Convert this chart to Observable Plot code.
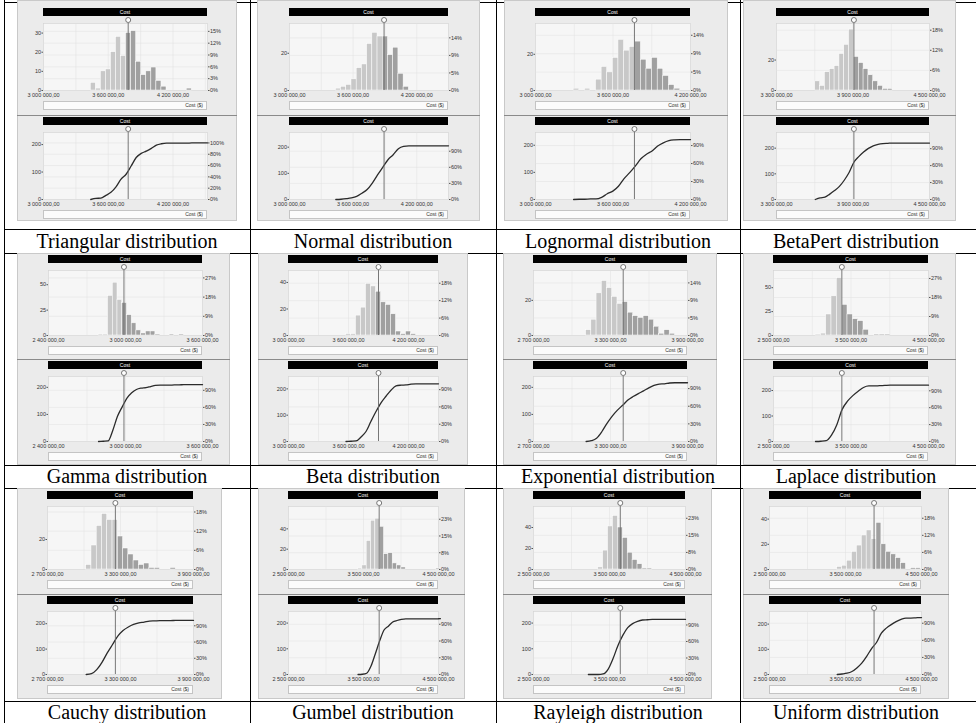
<!DOCTYPE html>
<html><head><meta charset="utf-8">
<script src="https://cdn.jsdelivr.net/npm/d3@7"></script>
<script src="https://cdn.jsdelivr.net/npm/@observablehq/plot@0.6"></script>
<style>
html,body{margin:0;padding:0;background:#fff;}
body{width:976px;height:723px;overflow:hidden;position:relative;font-family:"Liberation Sans",Arial,sans-serif;}
.a{position:absolute;box-sizing:border-box;}
.vl{position:absolute;width:1px;background:#000;}
.hl{position:absolute;height:1px;background:#000;}
.panel{background:#ebebeb;border:1px solid #c9c9c9;}
.tbar{background:#000;color:#fff;font-size:5px;line-height:8px;text-align:center;height:8px;}
.cbox{background:#fbfbfb;border:1px solid #c4c4c4;font-size:5px;line-height:7px;text-align:right;padding-right:3px;color:#333;}
.div{background:#8a8a8a;height:1px;}
.cap{font-family:"Liberation Serif","Times New Roman",serif;font-size:20px;text-align:center;color:#000;white-space:nowrap;}
</style></head>
<body>
<script>
// ---------- data ----------
const distributions = ["Triangular distribution","Normal distribution","Lognormal distribution","BetaPert distribution",
  "Gamma distribution","Beta distribution","Exponential distribution","Laplace distribution",
  "Cauchy distribution","Gumbel distribution","Rayleigh distribution","Uniform distribution"];

const triangularCounts  = [4,1,10,11,20,28,18,30,31,15,8,10,12,5,2,0,0,0,0,1];
const normalCounts      = [1,2,3,6,12,14,25,31,29,29,19,23,9,2];
const lognormalCounts   = [1,0,1,0,6,13,10,18,28,22,24,27,17,12,18,12,8,3,1];
const betaPertCounts    = [6,3,12,14,16,24,30,40,22,18,14,10,6,3,1,1];
const gammaCounts       = [1,1,39,52,35,32,20,12,5,2,4,4,1,0,0,1,0,1];
const betaCounts        = [1,1,15,21,39,37,33,25,23,16,3,1,3,1];
const exponentialCounts = [3,9,24,31,27,22,18,19,13,11,10,11,9,5,1,3,1];
const laplaceCounts     = [1,2,22,41,60,32,22,17,15,6,0,1,1,1];
const cauchyCounts      = [3,16,29,37,33,33,22,14,10,6,3,4,1,1,0,0,1];
const gumbelCounts      = [1,4,28,48,50,42,15,16,6,4,2,0,0,0,0,0,0,0,1];
const rayleighCounts    = [0,0,2,18,41,51,40,30,16,9,5,1,1];
const uniformCounts     = [2,3,7,14,19,27,31,24,37,20,14,12,9,5,0,1,1];

const allCounts = [triangularCounts,normalCounts,lognormalCounts,betaPertCounts,gammaCounts,betaCounts,
  exponentialCounts,laplaceCounts,cauchyCounts,gumbelCounts,rayleighCounts,uniformCounts];

const binStarts  = [3438000,3437000,3295000,3604000,2790000,3575000,3110000,3042000,3018000,3427000,3222000,3391000];
const binWidths  = [46800,49200,43400,37900,36900,50000,40700,68800,43300,57800,64700,64600];
const markerValues = [3785000,3892000,3766000,3907000,2988000,3900000,3399000,3382000,3258000,3709000,3642000,3876000];
const xDomainMin = [3000000,3000000,3000000,3300000,2400000,3000000,2700000,2500000,2700000,2500000,2500000,2500000];
const xDomainMax = [4520000,4500000,4200000,4500000,3600000,4500000,3900000,4500000,3900000,4500000,4500000,4500000];
const xTickValues = [
  [3000000,3600000,4200000],[3000000,3600000,4200000],[3000000,3600000,4200000],[3300000,3900000,4500000],
  [2400000,3000000,3600000],[3000000,3600000,4200000],[2700000,3300000,3900000],[2500000,3500000,4500000],
  [2700000,3300000,3900000],[2500000,3500000,4500000],[2500000,3500000,4500000],[2500000,3500000,4500000]];
const histYMax      = [35,36,37,44,64,49,37,68,42,62,60,50];
const histCountStep = [10,20,20,20,25,20,20,25,20,20,20,20];
const histCountTop  = [30,20,20,20,50,40,20,50,20,40,40,40];   // highest labelled count on the left axis
const histPctStep   = [0.03,0.046,0.046,0.06,0.09,0.06,0.046,0.09,0.06,0.076,0.076,0.06];
const cumYMax       = [244,256,247,261,240,247,240,255,248,245,245,250];
const cumCountStep  = [100,100,100,100,100,100,100,100,100,100,100,100];
const cumCountTop   = [200,200,200,200,200,200,200,200,200,200,200,200];
const cumPctStep    = [0.2,0.3,0.3,0.3,0.3,0.3,0.3,0.3,0.3,0.3,0.3,0.3];

// ---------- layout ----------
const colLines = [4,250,496,740];
const rowLines = [2,229,253,465,488,701];
const captionRows = [[229,253],[465,488],[701,723]];
const rowPanel = [ // panelTop, blockTops, blockHeight, panelBottom
  {top:0,   t:[8,117],  B:108, bottom:221},
  {top:253, t:[255,361],B:106, bottom:465},
  {top:488, t:[491,596],B:104, bottom:699}];
const cellX = [ // panelLeft, panelRight, plotLeft, plotRight
  [17,237,43,207],[257,480,289,448],[504,728,535,690],[743,956,776,929],
  [17,230,48,202],[258,468,288,438],[503,717,533,687],[743,956,773,928],
  [17,222,47,193],[258,465,288,438],[503,712,533,685],[743,949,769,921]];

const loc = d3.formatLocale({decimal:",",thousands:" ",grouping:[3],currency:["",""]});
const fmtX = loc.format(",.2f");

function el(cls, x, y, w, h, html){
  const d = document.createElement("div");
  d.className = cls;
  d.style.left = x+"px"; d.style.top = y+"px";
  if (w!=null) d.style.width = w+"px";
  if (h!=null) d.style.height = h+"px";
  if (html!=null) d.innerHTML = html;
  document.body.appendChild(d);
  return d;
}

// table lines
colLines.forEach(x => el("vl", x, 0, 1, 723));
rowLines.forEach(y => el("hl", 4, y, 972, 1));

function makeChart(i, kind, width, mL, mR, height){
  const counts = allCounts[i];
  const n = d3.sum(counts);
  const start = binStarts[i], w = binWidths[i];
  const bins = counts.map((c,k)=>({x1:start+k*w, x2:start+(k+1)*w, count:c}));
  const marker = markerValues[i];
  const yMax = kind==="hist" ? histYMax[i] : cumYMax[i];
  const cStep = kind==="hist" ? histCountStep[i] : cumCountStep[i];
  const cTop = kind==="hist" ? histCountTop[i] : cumCountTop[i];
  const pStep = kind==="hist" ? histPctStep[i] : cumPctStep[i];
  const countTicks = d3.range(0, cTop + cStep/2, cStep);
  const pctVals = d3.range(0, 1.0001, pStep).filter(p => p*n <= yMax);
  const pctTicks = pctVals.map(p => p*n);
  const ticks = xTickValues[i];
  const half = (ticks[1]-ticks[0])/2;
  const vgrid = d3.range(ticks[0]+half, xDomainMax[i], half);
  const cs = d3.cumsum(counts);
  const cum = [{x:start,y:0}, ...bins.map((b,k)=>({x:b.x2,y:cs[k]})), {x:xDomainMax[i], y:n}];
  const dataMark = kind==="hist"
    ? Plot.rectY(bins.filter(b=>b.count>0), {x1:"x1", x2:"x2", y:"count",
        fill: b => (b.x1+b.x2)/2 < marker ? "#c8c8c8" : "#a0a0a0", stroke:"#fff", strokeWidth:0.5})
    : Plot.line(cum, {x:"x", y:"y", stroke:"#2b2b2b", strokeWidth:1.3, curve:"monotone-x"});
  return Plot.plot({
    width, height, marginLeft:mL, marginRight:mR, marginTop:7, marginBottom:10,
    x:{domain:[xDomainMin[i], xDomainMax[i]], axis:null, label:null},
    y:{domain:[0,yMax], axis:null, label:null},
    style:{background:"transparent", fontFamily:"'Liberation Sans',Arial,sans-serif", fontSize:"5.5px", overflow:"visible", color:"#333"},
    marks:[
      Plot.frame({fill:"#f6f6f6", stroke:"#d2d2d2", strokeWidth:0.6}),
      Plot.ruleY(pctTicks, {stroke:"#e1e1e1", strokeWidth:0.5}),
      Plot.ruleX(vgrid, {stroke:"#e1e1e1", strokeWidth:0.5}),
      dataMark,
      Plot.ruleX([marker], {x:d=>d, y1:0, y2:yMax, stroke:"#6a6a6a", strokeWidth:0.9}),
      Plot.dot([marker], {x:d=>d, y:yMax, dy:-3.5, r:2.5, fill:"#fff", stroke:"#444", strokeWidth:0.7}),
      Plot.axisY(countTicks, {anchor:"left", label:null, tickSize:1.5, tickPadding:1, fontSize:5.5, stroke:"#555"}),
      Plot.axisY(pctTicks, {anchor:"right", label:null, tickSize:1.5, tickPadding:1, fontSize:5.5, stroke:"#555",
        tickFormat: v => Math.round(v/n*100) + "%"}),
      Plot.axisX(ticks, {anchor:"bottom", label:null, tickSize:0, tickPadding:3, fontSize:5.5, tickFormat: fmtX})
    ]
  });
}

distributions.forEach((name, i) => {
  const r = Math.floor(i/4), c = i%4;
  const rp = rowPanel[r];
  const [pL, pR, qL, qR] = cellX[i];
  const pw = pR - pL, qw = qR - qL;
  el("a panel", pL, rp.top, pw, rp.bottom - rp.top);
  ["hist","cum"].forEach((kind, b) => {
    const t = rp.t[b];
    el("a tbar", qL, t, qw, 8, "Cost");
    const svgH = rp.B - 8 - 16;
    const holder = el("a", pL, t+8, pw, svgH);
    holder.appendChild(makeChart(i, kind, pw, qL-pL, pR-qR, svgH));
    el("a cbox", qL, t + rp.B - 16 + 1, qw, 9, "Cost ($)");
    if (b===0) el("a div", pL, rp.t[1]-2, pw, 1);
  });
  const [cy0, cy1] = captionRows[r];
  const cap = el("a cap", colLines[c], cy0, (c<3 ? colLines[c+1] : 972) - colLines[c], cy1-cy0, name);
  cap.style.lineHeight = (cy1-cy0)+"px";
});
</script>
</body></html>
